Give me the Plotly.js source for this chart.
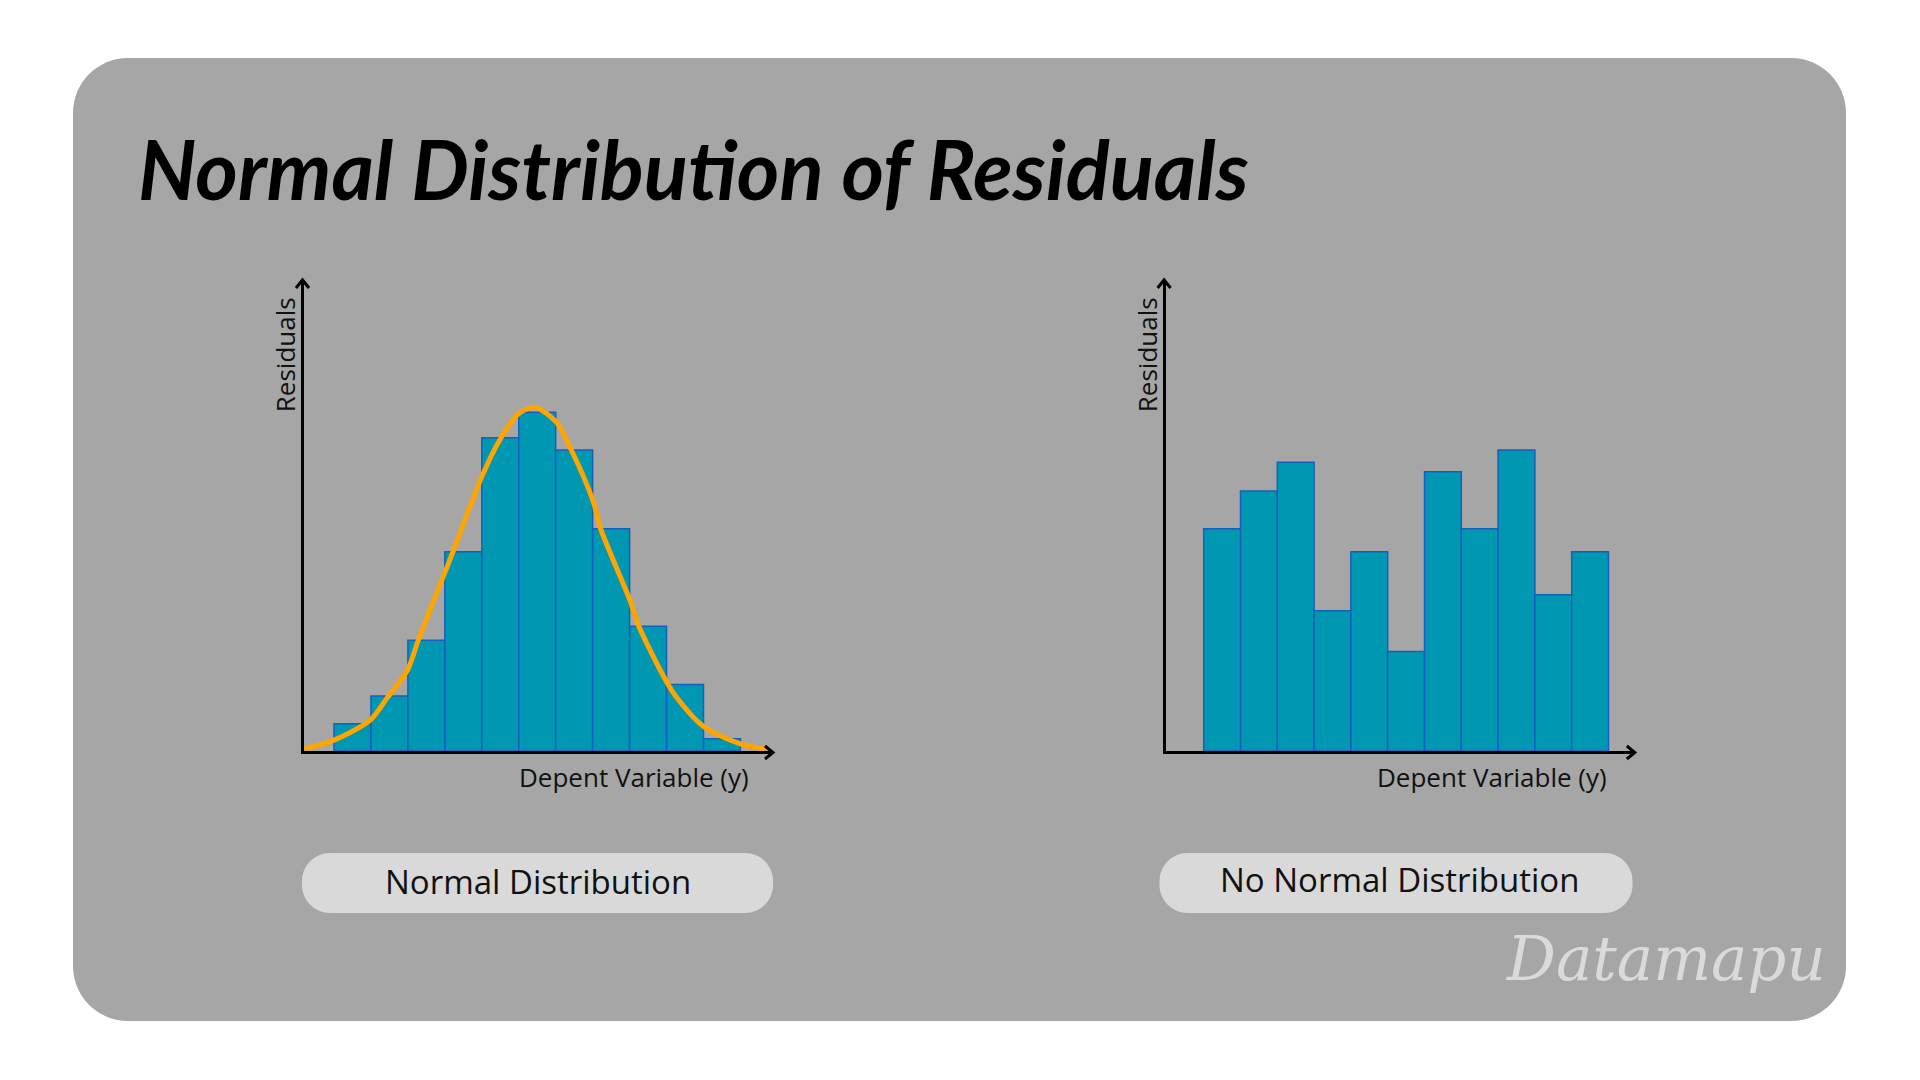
<!DOCTYPE html>
<html>
<head>
<meta charset="utf-8">
<script src="https://cdn.plot.ly/plotly-3.0.1.min.js"></script>
<style>
  html, body { margin: 0; padding: 0; background: #ffffff; }
  #chart { width: 1920px; height: 1080px; }
</style>
</head>
<body>
<div id="chart"></div>
<script>
// ---------- data ----------
const titleText = "Normal Distribution of Residuals";
const xAxisLabel = "Depent Variable (y)";
const yAxisLabel = "Residuals";
const leftCaption = "Normal Distribution";
const rightCaption = "No Normal Distribution";
const watermark = "Datamapu";

const bins = [1, 2, 3, 4, 5, 6, 7, 8, 9, 10, 11];
const normalCounts = [5.8, 11.7, 23.5, 42.3, 66.5, 71.9, 63.9, 47.2, 26.5, 14.1, 2.6];
const nonNormalCounts = [47.2, 55.2, 61.3, 29.8, 42.3, 21.1, 59.3, 47.2, 63.9, 33.2, 42.3];

// fitted curve
const curveX = [-0.3, 0.5, 1.49, 1.95, 2.49, 2.78, 3.51, 3.72, 4.52, 5.02, 5.51, 5.93, 6.51, 6.93, 7.51, 7.72, 8.5, 8.75, 9.5, 9.77, 10.5, 11.5, 12.2];
const curveY = [0.4, 2.3, 6.6, 11.4, 17.2, 23.5, 38.1, 42.3, 58.6, 66.5, 71.7, 73.0, 69.9, 63.8, 53.1, 47.1, 32.2, 26.5, 14.7, 11.4, 5.2, 1.5, 0.4];

// ---------- layout helpers ----------
const W = 1920, H = 1080;
const px = v => v / W;
const py = v => 1 - v / H;

function roundRect(hw, hh, r) {
  const k = 0.5523 * r;
  return `M ${-hw + r},${-hh} L ${hw - r},${-hh} C ${hw - r + k},${-hh} ${hw},${-hh + r - k} ${hw},${-hh + r} ` +
         `L ${hw},${hh - r} C ${hw},${hh - r + k} ${hw - r + k},${hh} ${hw - r},${hh} ` +
         `L ${-hw + r},${hh} C ${-hw + r - k},${hh} ${-hw},${hh - r + k} ${-hw},${hh - r} ` +
         `L ${-hw},${-hh + r} C ${-hw},${-hh + r - k} ${-hw + r - k},${-hh} ${-hw + r},${-hh} Z`;
}
function pixelShape(cx, cy, path, fill, line) {
  return {
    type: 'path', xref: 'paper', yref: 'paper',
    xsizemode: 'pixel', ysizemode: 'pixel',
    xanchor: px(cx), yanchor: py(cy),
    path: path, fillcolor: fill,
    line: line || { width: 0 }, layer: 'below'
  };
}

const leftDom = [304, 773], rightDom = [1165.6, 1634.8];
const yDom = [280, 751];

const axisStyle = {
  showgrid: false, zeroline: false, showticklabels: false, ticks: '',
  showline: true, linecolor: '#000000', linewidth: 3, fixedrange: true
};

const barColor = '#0097b2';
const barEdge = '#1560bd';

const traces = [
  {
    type: 'bar', x: bins, y: normalCounts, width: 1,
    marker: { color: barColor, line: { color: barEdge, width: 1.5 } },
    xaxis: 'x', yaxis: 'y', hoverinfo: 'skip'
  },
  {
    type: 'scatter', mode: 'lines', x: curveX, y: curveY,
    line: { color: '#ffa500', width: 5, shape: 'spline', smoothing: 0.8 },
    xaxis: 'x', yaxis: 'y', hoverinfo: 'skip', cliponaxis: true
  },
  {
    type: 'bar', x: bins, y: nonNormalCounts, width: 1,
    marker: { color: barColor, line: { color: barEdge, width: 1.5 } },
    xaxis: 'x2', yaxis: 'y2', hoverinfo: 'skip'
  }
];

function arrowUp(xPix, yPix) {
  return {
    type: 'path', xref: 'paper', yref: 'paper',
    xsizemode: 'pixel', ysizemode: 'pixel',
    xanchor: px(xPix), yanchor: py(yPix),
    path: 'M -6.5,-8 L 0,0 L 6.5,-8',
    line: { color: '#000000', width: 3 }, layer: 'above'
  };
}
function arrowRight(xPix, yPix) {
  return {
    type: 'path', xref: 'paper', yref: 'paper',
    xsizemode: 'pixel', ysizemode: 'pixel',
    xanchor: px(xPix), yanchor: py(yPix),
    path: 'M -8,6.5 L 0,0 L -8,-6.5',
    line: { color: '#000000', width: 3 }, layer: 'above'
  };
}

const shapes = [
  pixelShape(959.5, 539.5, roundRect(886.5, 481.5, 55), '#a6a6a6'),
  pixelShape(537.5, 883, roundRect(235.5, 30, 28), '#d9d9d9'),
  pixelShape(1396, 883, roundRect(236.5, 30, 28), '#d9d9d9'),
  arrowUp(leftDom[0] - 1.5, yDom[0]),
  arrowRight(leftDom[1], yDom[1] + 1.5),
  arrowUp(rightDom[0] - 1.5, yDom[0]),
  arrowRight(rightDom[1], yDom[1] + 1.5)
];

const labelFont = { family: 'Open Sans, sans-serif', size: 26, color: '#111111' };
const captionFont = { family: 'Open Sans, sans-serif', size: 33, color: '#111111' };
const annotations = [
  {
    text: titleText, xref: 'paper', yref: 'paper', x: px(136), y: py(168),
    xanchor: 'left', yanchor: 'middle', showarrow: false,
    font: { family: 'Lato, "DejaVu Sans Condensed", sans-serif', size: 81.5, color: '#000000', weight: 'bold', style: 'italic' }
  },
  { text: yAxisLabel, xref: 'paper', yref: 'paper', x: px(284.5), y: py(354.7), textangle: -90,
    xanchor: 'center', yanchor: 'middle', showarrow: false, font: labelFont },
  { text: yAxisLabel, xref: 'paper', yref: 'paper', x: px(1146.5), y: py(354.7), textangle: -90,
    xanchor: 'center', yanchor: 'middle', showarrow: false, font: labelFont },
  { text: xAxisLabel, xref: 'paper', yref: 'paper', x: px(633.7), y: py(777), 
    xanchor: 'center', yanchor: 'middle', showarrow: false, font: labelFont },
  { text: xAxisLabel, xref: 'paper', yref: 'paper', x: px(1491.9), y: py(777),
    xanchor: 'center', yanchor: 'middle', showarrow: false, font: labelFont },
  { text: leftCaption, xref: 'paper', yref: 'paper', x: px(538), y: py(881.5),
    xanchor: 'center', yanchor: 'middle', showarrow: false, font: captionFont },
  { text: rightCaption, xref: 'paper', yref: 'paper', x: px(1399.6), y: py(879.7),
    xanchor: 'center', yanchor: 'middle', showarrow: false, font: captionFont },
  { text: watermark, xref: 'paper', yref: 'paper', x: px(1665.5), y: py(958),
    xanchor: 'center', yanchor: 'middle', showarrow: false,
    font: { family: '"DejaVu Serif", serif', size: 61, color: '#dadada', style: 'italic' } }
];

const layout = {
  width: W, height: H,
  margin: { l: 0, r: 0, t: 0, b: 0, pad: 0 },
  paper_bgcolor: '#ffffff', plot_bgcolor: 'rgba(0,0,0,0)',
  showlegend: false, bargap: 0,
  xaxis: Object.assign({}, axisStyle, { domain: [px(leftDom[0]), px(leftDom[1])], range: [-0.312, 12.381], anchor: 'y' }),
  yaxis: Object.assign({}, axisStyle, { domain: [py(yDom[1]), py(yDom[0])], range: [0, 100], anchor: 'x' }),
  xaxis2: Object.assign({}, axisStyle, { domain: [px(rightDom[0]), px(rightDom[1])], range: [-0.535, 12.215], anchor: 'y2' }),
  yaxis2: Object.assign({}, axisStyle, { domain: [py(yDom[1]), py(yDom[0])], range: [0, 100], anchor: 'x2' }),
  shapes: shapes,
  annotations: annotations
};

Plotly.newPlot('chart', traces, layout, { staticPlot: true, displayModeBar: false });
</script>
</body>
</html>
